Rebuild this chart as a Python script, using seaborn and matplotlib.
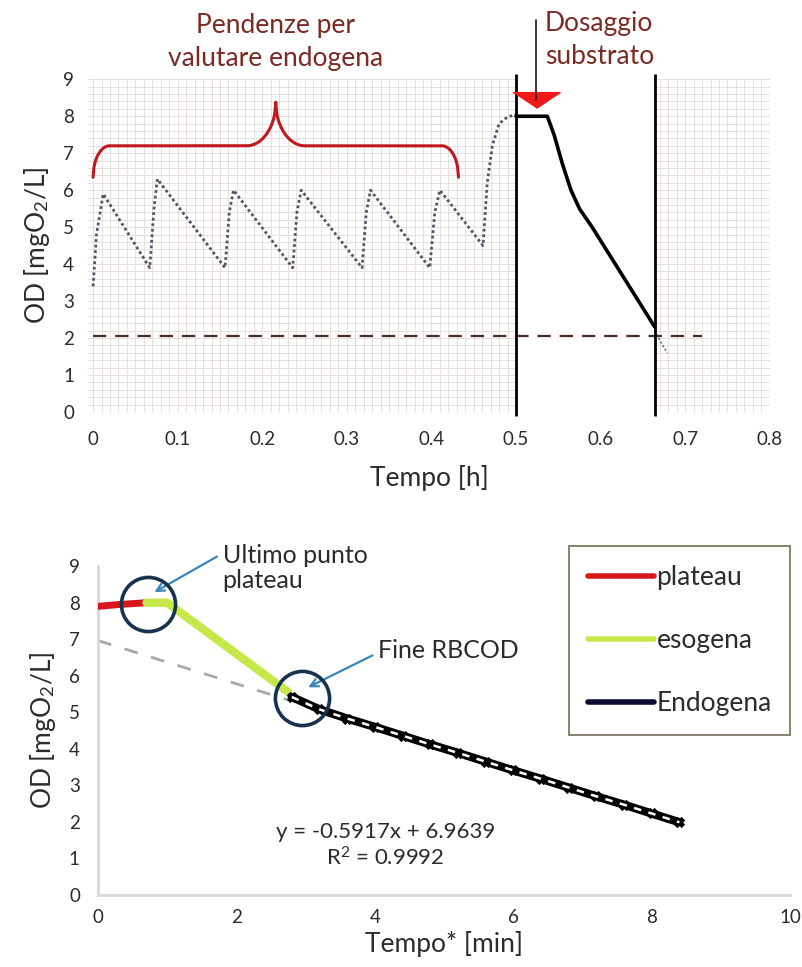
import numpy as np
import matplotlib
matplotlib.use("Agg")
import matplotlib.pyplot as plt
import seaborn as sns
from matplotlib.ticker import MultipleLocator
from matplotlib.lines import Line2D

# ===============================
# DATA - top chart (OD vs time in hours)
# ===============================
saw_t = [0.000, 0.004, 0.012, 0.067, 0.072, 0.076, 0.156, 0.161, 0.166,
         0.236, 0.241, 0.246, 0.318, 0.323, 0.328, 0.398, 0.404, 0.410,
         0.461, 0.466, 0.472, 0.480, 0.490, 0.500]
saw_od = [3.4, 4.8, 5.9, 3.9, 5.5, 6.3, 3.9, 5.4, 6.0,
          3.9, 5.4, 6.0, 3.9, 5.4, 6.0, 3.9, 5.4, 6.0,
          4.5, 6.2, 7.2, 7.8, 7.98, 8.05]
tail_t = [0.664, 0.672, 0.679]
tail_od = [2.2, 1.85, 1.6]

test_t = [0.500, 0.537, 0.545, 0.555, 0.565, 0.575, 0.590, 0.664]
test_od = [8.0, 8.0, 7.5, 6.7, 6.0, 5.5, 5.0, 2.3]

dose_t = 0.500
end_t = 0.664
threshold_od = 2.05
threshold_end = 0.72
brace_start, brace_end = 0.0, 0.432
brace_base, brace_level, brace_tip = 6.35, 7.2, 8.38
dose_mark_t, dose_mark_od = 0.524, 8.45

top_xticks = [0, 0.1, 0.2, 0.3, 0.4, 0.5, 0.6, 0.7, 0.8]
top_xlabels = ["0", "0.1", "0.2", "0.3", "0.4", "0.5", "0.6", "0.7", "0.8"]

# ===============================
# DATA - bottom chart (OD vs time* in minutes)
# ===============================
plateau_t = [0.0, 0.3, 0.7]
plateau_od = [7.9, 7.95, 8.0]
eso_t = [0.7, 1.0, 2.75]
eso_od = [8.0, 8.0, 5.55]
endo_t = [2.8, 3.2, 3.6, 4.0, 4.4, 4.8, 5.2, 5.6, 6.0, 6.4, 6.8, 7.2, 7.6, 8.0, 8.4]
endo_od = [5.42, 5.08, 4.83, 4.60, 4.36, 4.12, 3.89, 3.65, 3.41, 3.18, 2.94, 2.70, 2.47, 2.23, 1.99]
fit_slope = -0.5917
fit_intercept = 6.9639
fit_r2 = 0.9992
circle_t = [0.72, 2.95]
circle_od = [7.97, 5.38]

# ===============================
# STYLE
# ===============================
sns.set_theme(style="white")
plt.rcParams["font.family"] = ["Lato", "DejaVu Sans"]
plt.rcParams["mathtext.fontset"] = "custom"
plt.rcParams["mathtext.rm"] = "Lato"
plt.rcParams["mathtext.it"] = "Lato:italic"

text_dark = "#2b2b2b"
red_text = "#7a2a22"
big = 19
tick_fs = 13.5

fig = plt.figure(figsize=(8.03, 9.67), dpi=100)

# ===============================
# TOP CHART
# ===============================
ax1 = fig.add_axes([0.1096, 0.574, 0.849, 0.344])
ax1.set_xlim(-0.006, 0.8)
ax1.set_ylim(0, 9)
ax1.set_axisbelow(True)
ax1.xaxis.set_minor_locator(MultipleLocator(0.01))
ax1.yaxis.set_minor_locator(MultipleLocator(0.2))
ax1.set_xticks(top_xticks)
ax1.set_xticklabels(top_xlabels)
ax1.set_yticks(range(0, 10))
ax1.grid(which="both", color="#e6dedc", lw=0.7)
for s in ax1.spines.values():
    s.set_visible(False)
ax1.tick_params(axis="both", which="both", length=0, labelsize=tick_fs, colors=text_dark)
ax1.tick_params(axis="x", pad=14)
ax1.tick_params(axis="y", pad=10)

# white window between substrate dosing and end of test
ax1.axvspan(dose_t, end_t, color="white", zorder=0.6, lw=0)

sns.lineplot(x=saw_t, y=saw_od, ax=ax1, color="#4f5766", lw=2,
             linestyle=(0, (1, 1)), sort=False, zorder=3)
sns.lineplot(x=tail_t, y=tail_od, ax=ax1, color="#6d8798", lw=1.5,
             linestyle=(0, (1, 1)), sort=False, zorder=3)
sns.lineplot(x=test_t, y=test_od, ax=ax1, color="black", lw=2.6, sort=False, zorder=4)

ax1.vlines([dose_t, end_t], -0.1, 9.15, color="black", lw=2, zorder=5, clip_on=False)
ax1.hlines(threshold_od, 0, threshold_end, color="#4a2a22", lw=1.6,
           linestyles=(0, (6, 4)), zorder=4)

# curly brace over the endogenous slopes
u = np.linspace(0, 1, 200)
a, b = 0.09, 0.16
half = np.where(u < a,
                brace_base + (brace_level - brace_base) * np.sqrt(np.clip(1 - (1 - u / a) ** 2, 0, 1)),
                brace_level)
half = np.where(u > 1 - b,
                brace_level + (brace_tip - brace_level) *
                (1 - np.sqrt(np.clip(1 - ((u - (1 - b)) / b) ** 2, 0, 1))),
                half)
mid = (brace_start + brace_end) / 2
bx = np.concatenate([brace_start + u * (mid - brace_start), brace_end - u[::-1] * (brace_end - mid)])
by = np.concatenate([half, half[::-1]])
ax1.plot(bx, by, color="#c0181e", lw=2.2, zorder=5)

# substrate dosing marker
tri = [(-3, 1), (3, 1), (0, -1)]
ax1.plot([dose_mark_t], [dose_mark_od], marker=tri, ms=34, color="#f01818",
         mec="#f01818", ls="none", zorder=6, clip_on=False)
ax1.plot([dose_mark_t, dose_mark_t], [dose_mark_od, 10.6], color="#3a2020", lw=1.3,
         zorder=6, clip_on=False)

ax1.text(mid, 10.0, "Pendenze per\nvalutare endogena", ha="center", va="center",
         fontsize=big, color=red_text, linespacing=1.4)
ax1.text(0.534, 10.05, "Dosaggio\nsubstrato", ha="left", va="center",
         fontsize=big, color=red_text, linespacing=1.4)

ax1.set_xlabel("Tempo [h]", fontsize=big, color=text_dark, labelpad=12)
ax1.set_ylabel("OD [mgO$_2$/L]", fontsize=big, color=text_dark, labelpad=8)

# ===============================
# BOTTOM CHART
# ===============================
ax2 = fig.add_axes([0.122, 0.0745, 0.862, 0.340])
ax2.set_xlim(0, 10)
ax2.set_ylim(0, 9)
ax2.set_xticks(range(0, 11, 2))
ax2.set_yticks(range(0, 10))
for side in ["top", "right"]:
    ax2.spines[side].set_visible(False)
for side in ["left", "bottom"]:
    ax2.spines[side].set_color("#d8d8d8")
    ax2.spines[side].set_linewidth(2)
ax2.tick_params(axis="both", length=0, labelsize=tick_fs, colors=text_dark)
ax2.tick_params(axis="x", pad=10)
ax2.tick_params(axis="y", pad=13)

# linear fit extended back to t=0
fit_x = np.array([0, endo_t[0]])
ax2.plot(fit_x, fit_intercept + fit_slope * fit_x, color="#a8a8a8", lw=2,
         ls=(0, (5, 5)), zorder=2)

sns.lineplot(x=plateau_t, y=plateau_od, ax=ax2, color="#d8141c", lw=5, sort=False, zorder=3)
sns.lineplot(x=eso_t, y=eso_od, ax=ax2, color="#c6e84a", lw=6, sort=False, zorder=3)
sns.lineplot(x=endo_t, y=endo_od, ax=ax2, color="black", lw=6, sort=False, zorder=4,
             marker="X", ms=7, mec="black")
ax2.plot(endo_t, endo_od, color="white", lw=1.8, ls=(0, (3, 3)), zorder=5)

ax2.plot(circle_t, circle_od, ls="none", marker="o", ms=39, mfc="none",
         mec="#17324f", mew=2.6, zorder=6)

arrow_kw = dict(arrowstyle="->", color="#3a86b8", lw=1.6, mutation_scale=14)
ax2.annotate("Ultimo punto\nplateau", xy=(0.78, 8.25), xytext=(1.8, 8.95),
             fontsize=18, color=text_dark, ha="left", va="center",
             linespacing=1.15, annotation_clip=False,
             arrowprops=dict(**arrow_kw, relpos=(0, 0.8)))
ax2.annotate("Fine RBCOD", xy=(3.0, 5.65), xytext=(4.05, 6.7),
             fontsize=18, color=text_dark, ha="left", va="center",
             arrowprops=dict(**arrow_kw, relpos=(0, 0.4)))

ax2.text(4.15, 1.35, f"y = {fit_slope}x + {fit_intercept}\nR$^2$ = {fit_r2}",
         ha="center", va="center", fontsize=16, color=text_dark, linespacing=1.25)

handles = [Line2D([], [], color="#d8141c", lw=4),
           Line2D([], [], color="#c6e84a", lw=4),
           Line2D([], [], color="#0d0d33", lw=4)]
leg = ax2.legend(handles, ["plateau", "esogena", "Endogena"], loc="upper right",
                 bbox_to_anchor=(1.0, 1.06), fontsize=19, frameon=True, fancybox=False,
                 handlelength=2.5, handletextpad=0.1, labelspacing=1.45,
                 borderpad=0.7, borderaxespad=0)
leg.get_frame().set_edgecolor("#6a6248")
leg.get_frame().set_linewidth(1.4)
for t in leg.get_texts():
    t.set_color(text_dark)

ax2.set_xlabel("Tempo* [min]", fontsize=big, color=text_dark, labelpad=4)
ax2.set_ylabel("OD [mgO$_2$/L]", fontsize=big, color=text_dark, labelpad=8)

fig.savefig("out.png", dpi=100, facecolor="white")
